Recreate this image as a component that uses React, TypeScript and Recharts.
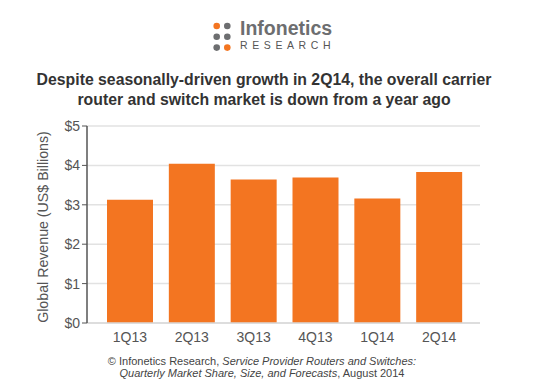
import { BarChart, Bar, XAxis, YAxis, CartesianGrid } from "recharts";

// Quarterly carrier router & switch revenue, US$ billions
const quarters = ["1Q13", "2Q13", "3Q13", "4Q13", "1Q14", "2Q14"];
const revenue = [3.13, 4.04, 3.64, 3.69, 3.16, 3.83];
const yTicks = [0, 1, 2, 3, 4, 5];

const data = quarters.map((q, i) => ({ quarter: q, revenue: revenue[i] }));

const FONT = "'Liberation Sans', Arial, sans-serif";
const ORANGE = "#f37521";

const App = () => {
  return (
    <div style={{ position: "absolute", left: 0, top: 0, width: 534, height: 387, background: "#fff", fontFamily: FONT }}>
      {/* logo */}
      <svg width={534} height={60} style={{ position: "absolute", left: 0, top: 0 }}>
        <circle cx={216.7} cy={26} r={3.3} fill={ORANGE} />
        <circle cx={227.3} cy={26} r={3.3} fill="#6d6e70" />
        <circle cx={216.7} cy={36.8} r={3.3} fill="#6d6e70" />
        <circle cx={227.3} cy={36.8} r={3.3} fill="#6d6e70" />
        <circle cx={216.7} cy={47.6} r={3.3} fill="#6d6e70" />
        <circle cx={227.3} cy={47.6} r={3.3} fill={ORANGE} />
        <text x={240} y={35} fontFamily={FONT} fontSize={19.5} fontWeight="bold" fill="#6d6e70">
          Infonetics
        </text>
        <text x={240} y={48.7} fontFamily={FONT} fontSize={10.5} letterSpacing={4.6} fill="#555">
          RESEARCH
        </text>
      </svg>

      {/* title */}
      <div
        style={{
          position: "absolute",
          left: 0,
          top: 70,
          width: 528,
          textAlign: "center",
          fontWeight: "bold",
          fontSize: 15.8,
          lineHeight: "19.5px",
          color: "#333",
        }}
      >
        Despite seasonally-driven growth in 2Q14, the overall carrier
        <br />
        router and switch market is down from a year ago
      </div>

      <BarChart
        width={534}
        height={387}
        data={data}
        margin={{ top: 126, right: 54, bottom: 34, left: 0 }}
        style={{ position: "absolute", left: 0, top: 0 }}
      >
        <CartesianGrid vertical={false} stroke="#e2e2e2" strokeWidth={1.5} />
        <XAxis
          dataKey="quarter"
          height={30}
          axisLine={{ stroke: "#d8d8d8", strokeWidth: 1.5 }}
          tickLine={false}
          padding={{ left: 12, right: 10 }}
          tick={{ fill: "#555", fontSize: 14, fontFamily: FONT }}
          tickMargin={3}
        />
        <YAxis
          width={87}
          domain={[0, 5]}
          ticks={yTicks}
          tickFormatter={(v) => `$${v}`}
          axisLine={{ stroke: "#555", strokeWidth: 1.5 }}
          tickLine={{ stroke: "#555" }}
          tickSize={5}
          tick={{ fill: "#555", fontSize: 14, fontFamily: FONT }}
          tickMargin={2}
        />
        <Bar dataKey="revenue" fill={ORANGE} barSize={46} isAnimationActive={false} />
      </BarChart>

      {/* y axis title */}
      <svg width={60} height={387} style={{ position: "absolute", left: 0, top: 0 }}>
        <text
          transform="translate(48,227) rotate(-90)"
          textAnchor="middle"
          fontFamily={FONT}
          fontSize={14.2}
          fill="#555"
        >
          Global Revenue (US$ Billions)
        </text>
      </svg>

      {/* source note */}
      <div
        style={{
          position: "absolute",
          left: 0,
          top: 356,
          width: 524,
          textAlign: "center",
          fontSize: 11,
          lineHeight: "11.5px",
          color: "#444",
        }}
      >
        © Infonetics Research, <i>Service Provider Routers and Switches:</i>
        <br />
        <i>Quarterly Market Share, Size, and Forecasts</i>, August 2014
      </div>
    </div>
  );
};

export default App;
